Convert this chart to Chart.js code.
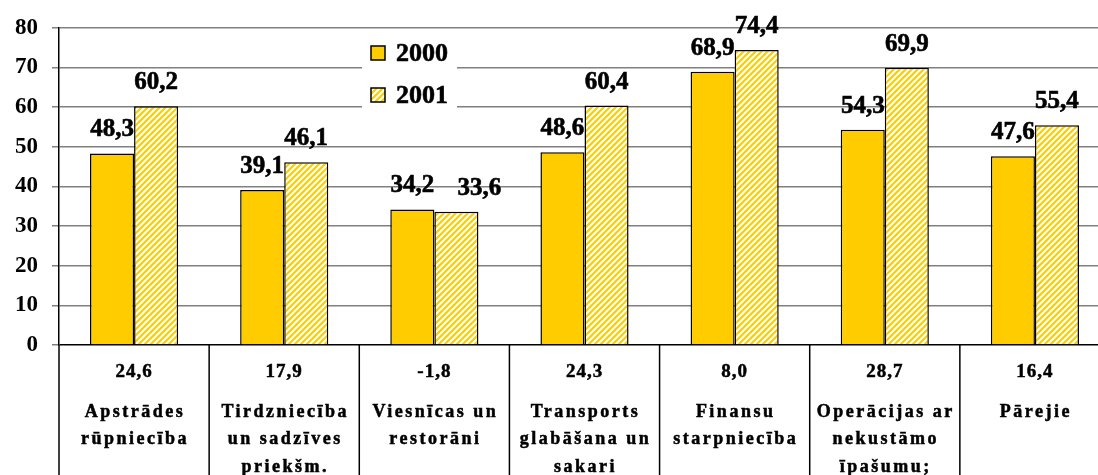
<!DOCTYPE html>
<html lang="lv">
<head>
    <meta charset="UTF-8">
    <title>Pievienotā vērtība</title>
    <style>
        body {
            margin: 0;
            padding: 0;
            background: #fff;
            overflow: hidden;
        }
        .wrap {
            width: 1110px;
            height: 475px;
        }
    </style>
</head>
<body>
    <div class="wrap">
        <canvas id="myChart" width="1110" height="475"></canvas>
    </div>
    <script src="https://cdn.jsdelivr.net/npm/chart.js"></script>
    <script>
        const categories = [
            ['Apstrādes', 'rūpniecība'],
            ['Tirdzniecība', 'un sadzīves', 'priekšm.'],
            ['Viesnīcas un', 'restorāni'],
            ['Transports', 'glabāšana un', 'sakari'],
            ['Finansu', 'starpniecība'],
            ['Operācijas ar', 'nekustāmo', 'īpašumu;'],
            ['Pārejie']
        ];
        const values2000 = [48.3, 39.1, 34.2, 48.6, 68.9, 54.3, 47.6];
        const values2001 = [60.2, 46.1, 33.6, 60.4, 74.4, 69.9, 55.4];
        const growth = [24.6, 17.9, -1.8, 24.3, 8.0, 28.7, 16.4];
        const yTicks = [0, 10, 20, 30, 40, 50, 60, 70, 80];

        const YELLOW = '#FFCC00';
        const SERIF = '"Liberation Serif", "Times New Roman", serif';
        const fmt = v => v.toFixed(1).replace('.', ',');

        // diagonal white stripes on yellow for the 2001 bars
        function makeHatch() {
            const s = 6;
            const c = document.createElement('canvas');
            c.width = s;
            c.height = s;
            const g = c.getContext('2d');
            g.fillStyle = YELLOW;
            g.fillRect(0, 0, s, s);
            g.strokeStyle = '#fff';
            g.lineWidth = 2;
            g.beginPath();
            g.moveTo(0, s); g.lineTo(s, 0);
            g.moveTo(-1, 1); g.lineTo(1, -1);
            g.moveTo(s - 1, s + 1); g.lineTo(s + 1, s - 1);
            g.stroke();
            return g.createPattern(c, 'repeat');
        }
        const hatch = makeHatch();

        // fill plus a hairline stroke, the original type is heavier than Liberation bold
        function heavyText(ctx, t, x, y) {
            ctx.fillText(t, x, y);
            ctx.strokeText(t, x, y);
        }

        const valueLabels = {
            id: 'valueLabels',
            afterDatasetsDraw(chart) {
                const ctx = chart.ctx;
                const first = chart.getDatasetMeta(0).data;
                ctx.save();
                ctx.font = 'bold 25px ' + SERIF;
                ctx.fillStyle = '#000';
                ctx.strokeStyle = '#000';
                ctx.lineWidth = 0.6;
                ctx.textAlign = 'center';
                ctx.textBaseline = 'alphabetic';
                chart.data.datasets.forEach((ds, di) => {
                    chart.getDatasetMeta(di).data.forEach((bar, i) => {
                        let x = bar.x;
                        // second label nudged right when it would collide with the first
                        if (di === 1 && Math.abs(bar.y - first[i].y) < 20) x += 23;
                        heavyText(ctx, fmt(ds.data[i]), x, bar.y - 17);
                    });
                });
                ctx.restore();
            }
        };

        const boxLegend = {
            id: 'boxLegend',
            afterDatasetsDraw(chart) {
                const ctx = chart.ctx;
                ctx.save();
                ctx.fillStyle = '#fff';
                ctx.fillRect(362, 36, 95, 74);
                ctx.font = 'bold 26px ' + SERIF;
                ctx.textBaseline = 'middle';
                ctx.textAlign = 'left';
                chart.data.datasets.forEach((ds, di) => {
                    const y = 53 + di * 42;
                    ctx.fillStyle = ds.backgroundColor;
                    ctx.fillRect(371, y - 7, 14, 14);
                    ctx.strokeStyle = '#000';
                    ctx.lineWidth = 1.5;
                    ctx.strokeRect(371, y - 7, 14, 14);
                    ctx.fillStyle = '#000';
                    ctx.lineWidth = 0.6;
                    heavyText(ctx, ds.label, 396, y + 1);
                });
                ctx.restore();
            }
        };

        const bottomTable = {
            id: 'bottomTable',
            afterDraw(chart) {
                const ctx = chart.ctx;
                const x = chart.scales.x;
                const top = chart.chartArea.bottom;
                const half = (x.getPixelForValue(1) - x.getPixelForValue(0)) / 2;
                ctx.save();
                ctx.strokeStyle = '#000';
                ctx.lineWidth = 1.5;
                for (let i = 0; i < categories.length; i++) {
                    const cx = x.getPixelForValue(i);
                    ctx.beginPath();
                    ctx.moveTo(cx - half, top);
                    ctx.lineTo(cx - half, chart.height);
                    ctx.stroke();
                }
                ctx.fillStyle = '#000';
                ctx.lineWidth = 0.5;
                ctx.textAlign = 'center';
                ctx.textBaseline = 'middle';
                ctx.letterSpacing = '1px';
                ctx.font = 'bold 19px ' + SERIF;
                growth.forEach((g, i) => {
                    heavyText(ctx, fmt(g), x.getPixelForValue(i), top + 27);
                });
                ctx.letterSpacing = '2.5px';
                ctx.font = 'bold 18px ' + SERIF;
                categories.forEach((lines, i) => {
                    lines.forEach((t, k) => {
                        heavyText(ctx, t, x.getPixelForValue(i) + 1, top + 67 + k * 27.5);
                    });
                });
                ctx.restore();
            }
        };

        new Chart(document.getElementById('myChart'), {
            type: 'bar',
            data: {
                labels: categories,
                datasets: [{
                    label: '2000',
                    data: values2000,
                    backgroundColor: YELLOW,
                    borderColor: '#000',
                    borderWidth: 1.5
                }, {
                    label: '2001',
                    data: values2001,
                    backgroundColor: hatch,
                    borderColor: '#000',
                    borderWidth: 1.5
                }]
            },
            options: {
                responsive: false,
                animation: false,
                layout: { padding: { top: 23, bottom: 130, left: 0, right: 0 } },
                datasets: {
                    bar: { categoryPercentage: 0.587, barPercentage: 1 }
                },
                plugins: {
                    legend: { display: false },
                    tooltip: { enabled: false }
                },
                scales: {
                    x: { display: false },
                    y: {
                        min: 0,
                        max: 80,
                        afterFit: s => { s.width = 59; },
                        afterBuildTicks: s => { s.ticks = yTicks.map(v => ({ value: v })); },
                        border: { color: '#000', width: 1.5 },
                        grid: {
                            color: c => c.tick && c.tick.value === 0 ? '#000' : '#808080',
                            lineWidth: 1.5,
                            tickLength: 7,
                            tickColor: '#808080'
                        },
                        ticks: {
                            padding: 14,
                            color: '#000',
                            font: { family: SERIF, weight: 'bold', size: 23 }
                        }
                    }
                }
            },
            plugins: [valueLabels, boxLegend, bottomTable]
        });
    </script>
</body>
</html>
